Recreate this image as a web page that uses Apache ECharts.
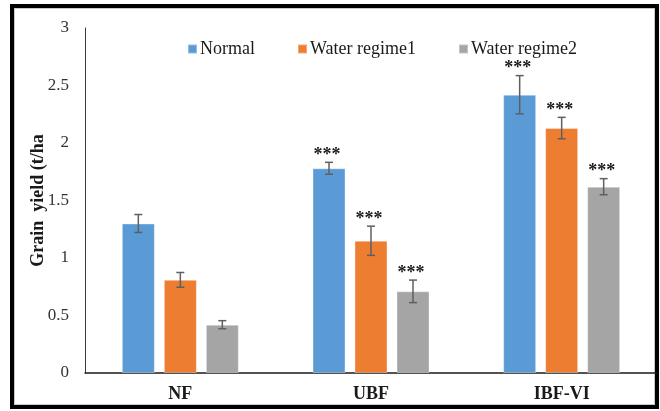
<!DOCTYPE html>
<html>
<head>
<meta charset="utf-8">
<script src="https://cdn.jsdelivr.net/npm/echarts@6/dist/echarts.min.js"></script>
<style>
html,body{margin:0;padding:0;background:#fff;}
#frame{position:absolute;left:10px;top:4px;width:641px;height:397px;border:4px solid #000;box-shadow:inset 0 0 0 1px #c8c8c8;}
#chart{position:absolute;left:0;top:0;width:660px;height:411px;}
</style>
</head>
<body>
<div id="frame"></div>
<div id="chart"></div>
<script>
const categories = ['NF', 'UBF', 'IBF-VI'];
const seriesNames = ['Normal', 'Water regime1', 'Water regime2'];
const normal = [1.30, 1.78, 2.42];
const regime1 = [0.81, 1.15, 2.13];
const regime2 = [0.42, 0.71, 1.62];
const normalErr = [0.078, 0.052, 0.166];
const regime1Err = [0.064, 0.127, 0.093];
const regime2Err = [0.035, 0.098, 0.07];
const normalSig = ['', '***', '***'];
const regime1Sig = ['', '***', '***'];
const regime2Sig = ['', '***', '***'];
const yTicks = [0, 0.5, 1, 1.5, 2, 2.5, 3];

const colors = ['#5B9BD5', '#ED7D31', '#A5A5A5'];
const values = [normal, regime1, regime2];
const errs = [normalErr, regime1Err, regime2Err];
const sigs = [normalSig, regime1Sig, regime2Sig];

const barWidth = 33, barGapPx = 9;
const font = 'Liberation Serif, Times New Roman, serif';

const chart = echarts.init(document.getElementById('chart'));

const series = [];
values.forEach((vals, i) => {
  series.push({
    name: seriesNames[i],
    type: 'bar',
    data: vals,
    barWidth: barWidth,
    barGap: (barGapPx / barWidth * 100) + '%',
    itemStyle: {color: colors[i], borderColor: 'rgba(255,255,255,0.35)', borderWidth: 1},
    z: 2
  });
});
values.forEach((vals, i) => {
  const offset = (i - 1) * (barWidth + barGapPx);
  series.push({
    type: 'custom',
    name: seriesNames[i] + ' err',
    data: vals.map((v, k) => [k, v, errs[i][k]]),
    z: 5,
    silent: true,
    renderItem: function (params, api) {
      const k = api.value(0);
      const v = api.value(1);
      const e = api.value(2);
      const sig = sigs[i][k];
      const top = api.coord([k, v + e]);
      const bot = api.coord([k, v - e]);
      const x = top[0] + offset;
      const cap = 4;
      const style = {stroke: '#5f5f5f', lineWidth: 1.5};
      const children = [
        {type: 'line', shape: {x1: x, y1: top[1], x2: x, y2: bot[1]}, style: style},
        {type: 'line', shape: {x1: x - cap, y1: top[1], x2: x + cap, y2: top[1]}, style: style},
        {type: 'line', shape: {x1: x - cap, y1: bot[1], x2: x + cap, y2: bot[1]}, style: style}
      ];
      if (sig) {
        children.push({
          type: 'text',
          style: {
            text: sig, x: x - 2, y: top[1] + 2, align: 'center', verticalAlign: 'bottom',
            font: 'bold 18px ' + font, fill: '#1a1a1a'
          }
        });
      }
      return {type: 'group', children: children};
    }
  });
});

chart.setOption({
  animation: false,
  legend: {
    data: seriesNames,
    top: 35,
    left: 182,
    itemWidth: 9,
    itemHeight: 9,
    itemGap: 42,
    icon: 'rect',
    textStyle: {fontFamily: font, fontSize: 18, color: '#1a1a1a', padding: [0, 0, 0, -2]}
  },
  grid: {left: 85, right: 3, top: 28, bottom: 38},
  xAxis: {
    type: 'category',
    data: categories,
    axisLine: {lineStyle: {color: '#1a1a1a', width: 1.5}},
    axisTick: {show: false},
    axisLabel: {fontFamily: font, fontSize: 18, fontWeight: 'bold', color: '#1a1a1a', margin: 12}
  },
  yAxis: {
    type: 'value',
    min: yTicks[0],
    max: yTicks[yTicks.length - 1],
    interval: 0.5,
    name: 'Grain  yield (t/ha',
    nameLocation: 'middle',
    nameGap: 38,
    nameMoveOverlap: false,
    nameTextStyle: {fontFamily: font, fontSize: 18, fontWeight: 'bold', color: '#1a1a1a'},
    axisLine: {show: true, lineStyle: {color: '#3a3a3a', width: 1}},
    axisTick: {show: false},
    splitLine: {show: false},
    axisLabel: {fontFamily: font, fontSize: 17, color: '#333', margin: 16}
  },
  series: series
});
</script>
</body>
</html>
